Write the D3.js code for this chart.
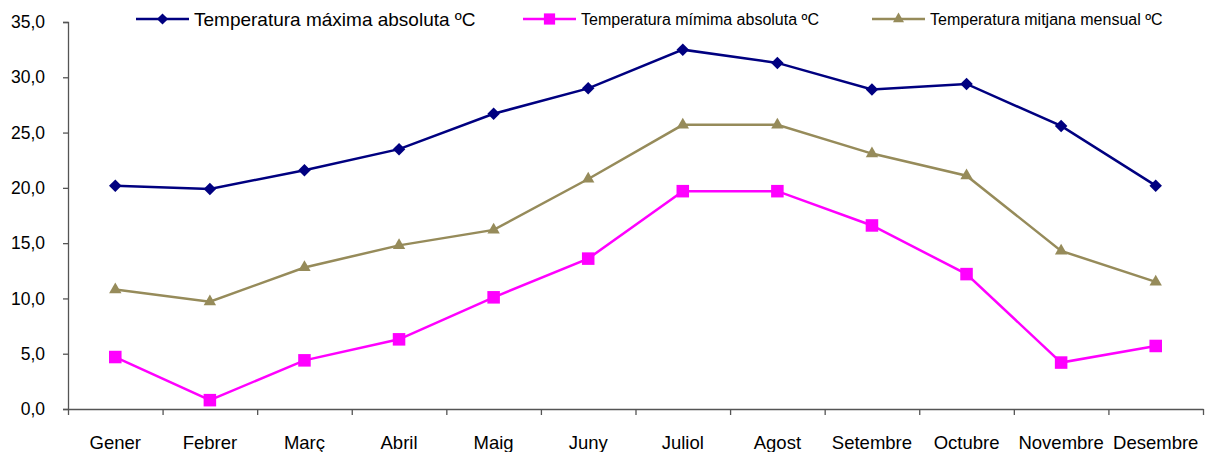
<!DOCTYPE html>
<html>
<head>
<meta charset="utf-8">
<script src="https://cdn.jsdelivr.net/npm/d3@7"></script>
<style>
  body { margin: 0; background: #fff; }
  text { font-family: "Liberation Sans", Arial, sans-serif; fill: #000; }
</style>
</head>
<body>
<div id="chart"></div>
<script>
// data
var months = ["Gener", "Febrer", "Març", "Abril", "Maig", "Juny", "Juliol", "Agost", "Setembre", "Octubre", "Novembre", "Desembre"];
var tempMax = [20.2, 19.9, 21.6, 23.5, 26.7, 29.0, 32.5, 31.3, 28.9, 29.4, 25.6, 20.2];
var tempMin = [4.7, 0.8, 4.4, 6.3, 10.1, 13.6, 19.7, 19.7, 16.6, 12.2, 4.2, 5.7];
var tempMean = [10.8, 9.7, 12.8, 14.8, 16.2, 20.8, 25.7, 25.7, 23.1, 21.1, 14.3, 11.5];
var yTicks = [0, 5, 10, 15, 20, 25, 30, 35];
var seriesNames = ["Temperatura máxima absoluta ºC", "Temperatura mímima absoluta ºC", "Temperatura mitjana mensual ºC"];

var series = [
    { name: seriesNames[0], values: tempMax, color: "#000080", symbol: d3.symbolDiamond2, size: 100, legendX: 136, font: 19 },
    { name: seriesNames[1], values: tempMin, color: "#FF00FF", symbol: d3.symbolSquare2, size: 200, legendX: 523, font: 16 },
    { name: seriesNames[2], values: tempMean, color: "#968B5A", symbol: d3.symbolTriangle2, size: 110, legendX: 872, font: 16 }
];

var W = 1205, H = 452;
var margin = { top: 22, right: 2, bottom: 43, left: 68 };
var width = W - margin.left - margin.right,
    height = H - margin.top - margin.bottom;

var svg = d3.select("#chart").append("svg")
    .attr("width", W)
    .attr("height", H);

var g = svg.append("g")
    .attr("transform", "translate(" + margin.left + "," + margin.top + ")");

// scales
var x = d3.scaleBand().domain(months).range([0, width]);
var xEdge = d3.scaleLinear().domain([0, months.length]).range([0, width]);
var y = d3.scaleLinear().domain([0, 35]).range([height, 0]);

// y axis
var yAxis = d3.axisLeft(y)
    .tickValues(yTicks)
    .tickSize(5)
    .tickPadding(18)
    .tickFormat(function(d) { return d3.format(".1f")(d).replace(".", ","); });

var gy = g.append("g").attr("class", "y-axis").call(yAxis);
gy.select(".domain").attr("stroke", "#555").attr("stroke-width", 1.3);
gy.selectAll(".tick line").attr("stroke", "#555").attr("stroke-width", 1.3);
gy.selectAll(".tick text").attr("font-size", "17.5px").attr("font-family", "Liberation Sans, Arial, sans-serif");

// x axis: ticks on band edges
var xAxis = d3.axisBottom(xEdge)
    .tickValues(d3.range(months.length + 1))
    .tickSize(6)
    .tickSizeOuter(0)
    .tickFormat("");
var gx = g.append("g").attr("class", "x-axis")
    .attr("transform", "translate(0," + height + ")")
    .call(xAxis);
gx.select(".domain").attr("stroke", "#555").attr("stroke-width", 1.3);
gx.selectAll(".tick line").attr("stroke", "#555").attr("stroke-width", 1.3);

// month labels
g.selectAll(".month-label")
    .data(months)
    .enter().append("text")
    .attr("class", "month-label")
    .attr("x", function(d) { return x(d) + x.bandwidth() / 2; })
    .attr("y", height + 40)
    .attr("text-anchor", "middle")
    .attr("font-size", "18.5px")
    .text(function(d) { return d; });

// lines + markers
var line = d3.line()
    .x(function(d, i) { return x(months[i]) + x.bandwidth() / 2; })
    .y(function(d) { return y(d); });

series.forEach(function(s) {
    g.append("path")
        .datum(s.values)
        .attr("d", line)
        .attr("fill", "none")
        .attr("stroke", s.color)
        .attr("stroke-width", 2.5);

    g.selectAll(null)
        .data(s.values)
        .enter().append("path")
        .attr("d", d3.symbol().type(s.symbol).size(s.size))
        .attr("transform", function(d, i) {
            return "translate(" + (x(months[i]) + x.bandwidth() / 2) + "," + y(d) + ")";
        })
        .attr("fill", s.color)
        .attr("stroke", "none");
});

// legend
var legend = svg.append("g").attr("class", "legend");
series.forEach(function(s) {
    var lg = legend.append("g").attr("transform", "translate(" + s.legendX + ",19)");
    lg.append("line")
        .attr("x1", 0).attr("x2", 53)
        .attr("y1", 0).attr("y2", 0)
        .attr("stroke", s.color)
        .attr("stroke-width", 2.5);
    lg.append("path")
        .attr("d", d3.symbol().type(s.symbol).size(s.size * 0.8))
        .attr("transform", "translate(26.5,0)")
        .attr("fill", s.color);
    lg.append("text")
        .attr("x", 58)
        .attr("y", 0)
        .attr("dy", "0.35em")
        .attr("font-size", s.font + "px")
        .text(s.name);
});
</script>
</body>
</html>
